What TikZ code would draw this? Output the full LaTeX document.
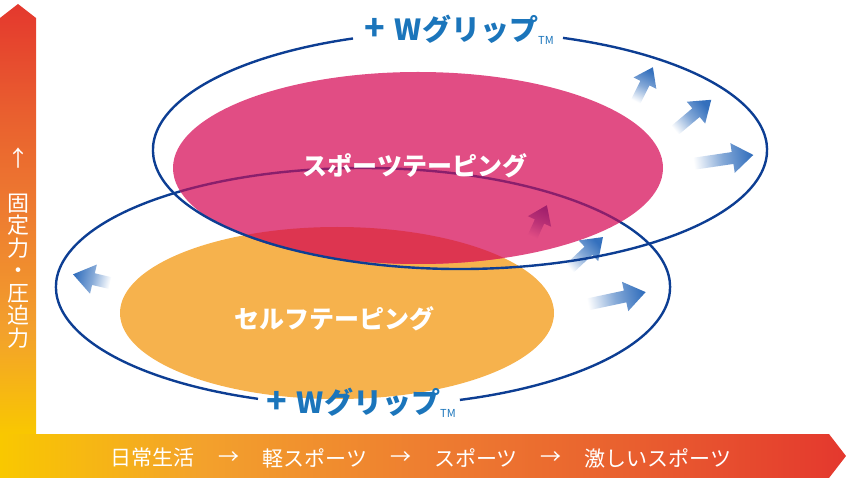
\documentclass[tikz,border=0pt]{standalone}
\usepackage{fontspec}
\newfontfamily\jp{Noto Sans CJK JP}
\definecolor{eline}{HTML}{0D3E93}
\definecolor{ablue}{HTML}{3470BD}
\definecolor{orangefill}{HTML}{F6B24D}
\definecolor{pinkfill}{HTML}{E14D84}
\definecolor{overlapfill}{HTML}{DD3550}
\definecolor{purpleline}{HTML}{8A1F6C}
\definecolor{apurple}{HTML}{A01F6C}
\definecolor{wgblue}{HTML}{1B75BB}
\definecolor{cY}{HTML}{F9C800}
\definecolor{cOa}{HTML}{F3A12C}
\definecolor{cOb}{HTML}{EE7E30}
\definecolor{cOc}{HTML}{E9602F}
\definecolor{cR}{HTML}{E4382E}
\pgfdeclarehorizontalshading{hbarshade}{100bp}{color(0bp)=(cY); color(25bp)=(cY); color(37bp)=(cOa); color(50bp)=(cOb); color(62bp)=(cOc); color(75bp)=(cR); color(100bp)=(cR)}
\pgfdeclareverticalshading{vbarshade}{100bp}{color(0bp)=(cY); color(25bp)=(cY); color(37bp)=(cOa); color(50bp)=(cOb); color(62bp)=(cOc); color(75bp)=(cR); color(100bp)=(cR)}
% x, y, angle, length, head colour, size factor, tail colour
\newcommand{\garrow}[7]{%
  \begin{scope}[shift={(#1,#2)}, rotate=#3]
    \pgfmathsetmacro\gsa{#3-90}%
    \pgfmathsetmacro\gsw{6*#6}%
    \pgfmathsetmacro\ghw{15*#6}%
    \pgfmathsetmacro\ghs{#4-21*#6}%
    \shade[bottom color=#7, top color=#5, middle color=#5!60!#7, shading angle=\gsa]
      (0,-\gsw) -- (\ghs,-\gsw) -- (\ghs,-\ghw) -- (#4,0) -- (\ghs,\ghw) -- (\ghs,\gsw) -- (0,\gsw) -- cycle;
  \end{scope}}
\tikzset{
  ellline/.style={draw=eline, line width=2.4pt},
  bigjp/.style={font=\jp\bfseries\fontsize{25}{30}\selectfont, text=white},
  wgrip/.style={font=\jp\bfseries\fontsize{29}{34}\selectfont, text=wgblue, inner sep=0pt},
  tmark/.style={font=\jp\fontsize{11}{13}\selectfont, text=wgblue, inner sep=0pt},
  axistext/.style={font=\jp\fontsize{21}{24}\selectfont, text=white, inner sep=0pt}
}
\newcommand{\wgtext}{{\fontsize{34}{34}\selectfont +}\hspace{10pt}Wグリップ}
\begin{document}
\begin{tikzpicture}[x=1pt, y=-1pt]
\useasboundingbox (0,0) rectangle (846,478);
% axes
\shade[shading=vbarshade] (0,435) -- (0,18) -- (18,4) -- (36,18) -- (36,435) -- cycle;
\shade[shading=hbarshade] (0,434) -- (829,434) -- (846,456) -- (829,478) -- (0,478) -- cycle;
% bottom ellipse outline (gap for label)
\draw[ellline] (363,287) ++(110:307 and 119) arc[start angle=110, end angle=431.6, x radius=307, y radius=119];
% arrows
\garrow{635}{103}{63.4}{40}{ablue}{0.85}{white}
\garrow{673}{132}{40.1}{50}{ablue}{0.95}{white}
\garrow{692}{164}{8.4}{62}{ablue}{1}{white}
\garrow{568}{270}{43.3}{48}{ablue}{0.95}{white}
\garrow{585}{305}{12.0}{62}{ablue}{1}{white}
\garrow{110}{283}{166.8}{38}{ablue}{1}{white}
% fills
\fill[orangefill] (337,313) ellipse[x radius=217, y radius=86];
\fill[pinkfill] (418,168) ellipse[x radius=245, y radius=96];
\begin{scope}
  \clip (418,168) ellipse[x radius=245, y radius=96];
  \fill[overlapfill] (337,313) ellipse[x radius=217, y radius=86];
  \draw[draw=purpleline, line width=2.4pt] (363,287) ellipse[x radius=307, y radius=119];
  \garrow{532}{238}{65.6}{36}{apurple}{0.85}{pinkfill}
\end{scope}
% top ellipse outline (gap for label)
\draw[ellline] (460,150) ++(289.6:307 and 119) arc[start angle=289.6, end angle=609.6, x radius=307, y radius=119];
% labels
\node[bigjp] (sport) at (415,166) {スポーツテーピング};
\node[bigjp] (self) at (334,319) {セルフテーピング};
\node[wgrip, anchor=base west] (wtop) at (364,41) {\wgtext};
\node[tmark, anchor=base west] (tmtop) at (538,45) {TM};
\node[wgrip, anchor=base west] (wbot) at (266,413) {\wgtext};
\node[tmark, anchor=base west] (tmbot) at (440,417) {TM};
% vertical axis text
\node[axistext, font=\jp\fontsize{22}{24}\selectfont] (uparr) at (18,158) {↑};
\node[axistext, font=\jp\fontsize{22}{22.5}\selectfont, align=center] (vlabel) at (19,271) {固\\定\\力\\・\\圧\\迫\\力};
% horizontal axis text
\node[axistext] (h1) at (152,458) {日常生活};
\node[axistext] (a1) at (229,458) {→};
\node[axistext] (h2) at (315,458) {軽スポーツ};
\node[axistext] (a2) at (401,458) {→};
\node[axistext] (h3) at (476,458) {スポーツ};
\node[axistext] (a3) at (551,458) {→};
\node[axistext] (h4) at (658,458) {激しいスポーツ};
\end{tikzpicture}
\end{document}
